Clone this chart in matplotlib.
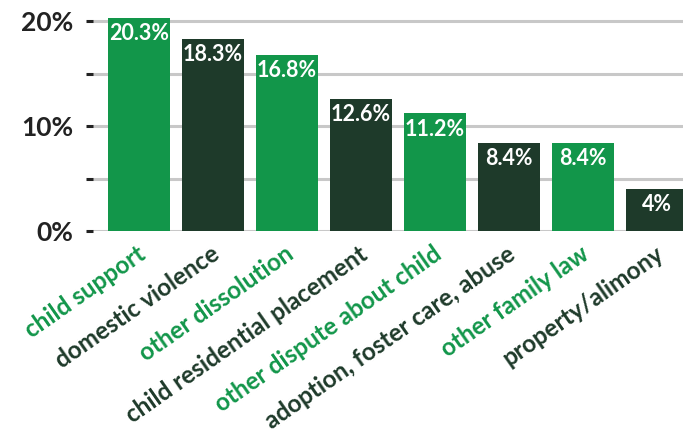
import matplotlib
matplotlib.use("Agg")
import matplotlib.pyplot as plt

categories = ["child support", "domestic violence", "other dissolution",
              "child residential placement", "other dispute about child",
              "adoption, foster care, abuse", "other family law", "property/alimony"]
values = [20.3, 18.3, 16.8, 12.6, 11.2, 8.4, 8.4, 4.0]
value_labels = ["20.3%", "18.3%", "16.8%", "12.6%", "11.2%", "8.4%", "8.4%", "4%"]
yticks = [0, 10, 20]
ytick_labels = ["0%", "10%", "20%"]
minor_ticks = [5, 15]

GREEN = "#12964A"
DARK = "#1E3A2A"
colors = [GREEN if i % 2 == 0 else DARK for i in range(len(values))]

plt.rcParams['font.family'] = ['Lato', 'DejaVu Sans']

fig = plt.figure(figsize=(6.83, 4.38), dpi=100)
ax = fig.add_axes([93/683, 207/438, 1 - 93/683, 221/438])

x = list(range(len(values)))
ax.bar(x, values, width=0.84, color=colors, zorder=3)
ax.set_xlim(-0.62, 7.35)
ax.set_ylim(0, 21.05)

for v in yticks + minor_ticks:
    ax.axhline(v, color="#C8C8C8", lw=2.2, zorder=1)

for xi, v, lab in zip(x, values, value_labels):
    ax.text(xi, v - 0.5, lab, ha="center", va="top", color="white",
            fontsize=15.5, fontweight="bold", zorder=4)

ax.set_yticks(yticks)
ax.set_yticklabels(ytick_labels, fontsize=19, fontweight="bold", color="#222222")
ax.set_yticks(minor_ticks, minor=True)
ax.tick_params(axis="y", which="both", length=5, width=2.2, color="#222222", pad=9)
ax.set_xticks([])
for s in ax.spines.values():
    s.set_visible(False)

for xi, c, col in zip(x, categories, colors):
    ax.annotate(c, xy=(xi, 0), xycoords=("data", "data"), xytext=(-2, -8),
                textcoords="offset points", ha="right", va="top",
                rotation=35, rotation_mode="anchor", color=col,
                fontsize=17.5, fontweight="bold")

fig.savefig("out.png", dpi=100)
